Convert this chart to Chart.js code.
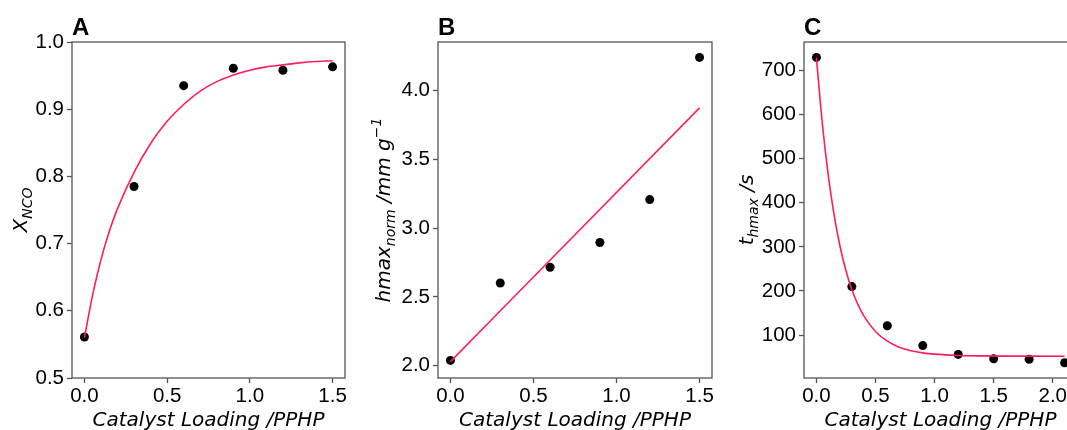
<!DOCTYPE html>
<html>
<head>
<meta charset="utf-8">
<script src="https://cdn.jsdelivr.net/npm/chart.js@4/dist/chart.umd.min.js"></script>
<style>
  html, body { margin: 0; padding: 0; background: #fff; overflow: hidden; width: 1067px; height: 430px; }
  canvas { position: absolute; top: 0; }
</style>
</head>
<body>
<canvas id="chartA" width="360" height="430" style="left:0px"></canvas>
<canvas id="chartB" width="360" height="430" style="left:360px"></canvas>
<canvas id="chartC" width="380" height="430" style="left:720px"></canvas>
<script>
// Panel A: conversion vs catalyst loading
const loadA = [0, 0.3, 0.6, 0.9, 1.2, 1.5];
const xncoA = [0.561, 0.785, 0.935, 0.961, 0.958, 0.963];
const fitXA = [0, 0.05, 0.1, 0.15, 0.2, 0.3, 0.4, 0.5, 0.6, 0.7, 0.8, 0.9, 1.0, 1.1, 1.2, 1.3, 1.4, 1.5];
const fitYA = [0.560, 0.624, 0.676, 0.718, 0.752, 0.806, 0.849, 0.882, 0.907, 0.927, 0.941, 0.951, 0.958, 0.963, 0.966, 0.969, 0.971, 0.972];
const yTicksA = [0.5, 0.6, 0.7, 0.8, 0.9, 1.0];

// Panel B: normalised max height
const loadB = [0, 0.3, 0.6, 0.9, 1.2, 1.5];
const hmaxB = [2.039, 2.602, 2.716, 2.896, 3.208, 4.242];
const fitXB = [0, 1.5];
const fitYB = [2.03, 3.875];
const yTicksB = [2.0, 2.5, 3.0, 3.5, 4.0];

// Panel C: time to max height
const loadC = [0, 0.3, 0.6, 0.9, 1.2, 1.5, 1.8, 2.1];
const thmaxC = [730, 210, 121, 76, 56, 46, 45, 37];
const fitXC = [0, 0.05, 0.1, 0.15, 0.2, 0.25, 0.3, 0.35, 0.4, 0.5, 0.6, 0.7, 0.8, 0.9, 1.0, 1.2, 1.4, 1.6, 1.8, 2.1];
const fitYC = [730, 580, 463, 372, 301, 246, 203, 170, 144, 108, 86, 72.5, 64.4, 59.5, 56.6, 53.7, 52.6, 52.2, 52.1, 52.0];
const yTicksC = [100, 200, 300, 400, 500, 600, 700];

const xTicksAB = [0, 0.5, 1.0, 1.5];
const xTicksC = [0, 0.5, 1.0, 1.5, 2.0];
const X_TITLE = 'Catalyst Loading /PPHP';

const FIT_COLOR = '#ff1f58';
const FRAME = '#555555';
const TICK_FONT = { family: '"Liberation Sans", Arial, sans-serif', size: 20.5 };
const TITLE_FAMILY = '"DejaVu Sans", sans-serif';

const pts = (xs, ys) => xs.map((x, i) => ({ x, y: ys[i] }));

// y title pieces: text, size, shift (sub > 0, sup < 0)
function drawRich(ctx, parts, x, y) {
  ctx.save();
  ctx.translate(x, y);
  ctx.rotate(-Math.PI / 2);
  ctx.textAlign = 'left';
  ctx.textBaseline = 'alphabetic';
  let total = 0;
  parts.forEach(p => {
    ctx.font = 'italic ' + p.size + 'px ' + TITLE_FAMILY;
    p.w = ctx.measureText(p.t).width;
    total += p.w;
  });
  let cx = -total / 2;
  parts.forEach(p => {
    ctx.font = 'italic ' + p.size + 'px ' + TITLE_FAMILY;
    ctx.fillText(p.t, cx, p.dy || 0);
    cx += p.w;
  });
  ctx.restore();
}

function decor(letter, parts, titleX) {
  return {
    id: 'decor' + letter,
    afterDraw(chart) {
      const { ctx, chartArea: a } = chart;
      ctx.save();
      ctx.strokeStyle = FRAME;
      ctx.lineWidth = 1.3;
      ctx.strokeRect(a.left, a.top, a.right - a.left, a.bottom - a.top);
      ctx.fillStyle = '#000';
      ctx.font = 'bold 24px "Liberation Sans", Arial, sans-serif';
      ctx.textAlign = 'left';
      ctx.textBaseline = 'alphabetic';
      ctx.fillText(letter, a.left, 35);
      ctx.font = 'italic 20px ' + TITLE_FAMILY;
      ctx.textAlign = 'center';
      ctx.fillText(X_TITLE, (a.left + a.right) / 2, 426);
      drawRich(ctx, parts, titleX, (a.top + a.bottom) / 2);
      ctx.restore();
    }
  };
}

function makePanel(id, cfg) {
  const axis = (min, max, ticks, fmt, fit, pad) => ({
    type: 'linear',
    min, max,
    afterBuildTicks: s => { s.ticks = ticks.map(v => ({ value: v })); },
    afterFit: fit,
    border: { display: false },
    grid: { display: true, drawOnChartArea: false, drawTicks: true, tickLength: 5, tickColor: FRAME, tickWidth: 1.3 },
    ticks: { autoSkip: false, maxRotation: 0, padding: pad, color: '#000', font: TICK_FONT, callback: fmt }
  });
  new Chart(document.getElementById(id), {
    type: 'scatter',
    data: {
      datasets: [
        {
          type: 'line',
          data: pts(cfg.fitX, cfg.fitY),
          borderColor: FIT_COLOR,
          borderWidth: 1.6,
          pointRadius: 0,
          fill: false,
          cubicInterpolationMode: 'monotone'
        },
        {
          data: pts(cfg.x, cfg.y),
          backgroundColor: '#000',
          borderColor: '#000',
          pointRadius: 4.5,
          pointBorderWidth: 0
        }
      ]
    },
    options: {
      responsive: false,
      devicePixelRatio: 1,
      animation: false,
      layout: { padding: { left: 0, right: cfg.padRight, top: 42, bottom: 0 } },
      plugins: { legend: { display: false }, tooltip: { enabled: false } },
      scales: {
        x: axis(cfg.xMin, cfg.xMax, cfg.xTicks, v => v.toFixed(1), s => { s.height = 52; }, 1),
        y: axis(cfg.yMin, cfg.yMax, cfg.yTicks, cfg.yFmt, s => { s.width = cfg.yWidth; }, 3)
      }
    },
    plugins: [decor(cfg.letter, cfg.yTitle, cfg.titleX)]
  });
}

makePanel('chartA', {
  letter: 'A', x: loadA, y: xncoA, fitX: fitXA, fitY: fitYA,
  xMin: -0.075, xMax: 1.575, xTicks: xTicksAB,
  yMin: 0.5, yMax: 1.0, yTicks: yTicksA, yFmt: v => v.toFixed(1),
  yWidth: 72, padRight: 15, titleX: 27,
  yTitle: [{ t: 'X', size: 20 }, { t: 'NCO', size: 14, dy: 5 }]
});

makePanel('chartB', {
  letter: 'B', x: loadB, y: hmaxB, fitX: fitXB, fitY: fitYB,
  xMin: -0.075, xMax: 1.575, xTicks: xTicksAB,
  yMin: 1.911, yMax: 4.354, yTicks: yTicksB, yFmt: v => v.toFixed(1),
  yWidth: 78, padRight: 8, titleX: 30,
  yTitle: [{ t: 'hmax', size: 20 }, { t: 'norm', size: 14, dy: 5 }, { t: ' /mm g', size: 20 }, { t: '\u22121', size: 14, dy: -9 }]
});

makePanel('chartC', {
  letter: 'C', x: loadC, y: thmaxC, fitX: fitXC, fitY: fitYC,
  xMin: -0.105, xMax: 2.205, xTicks: xTicksC,
  yMin: 2.5, yMax: 765, yTicks: yTicksC, yFmt: v => String(v),
  yWidth: 84, padRight: 23, titleX: 33,
  yTitle: [{ t: 't', size: 20 }, { t: 'hmax', size: 14, dy: 5 }, { t: ' /s', size: 20 }]
});
</script>
</body>
</html>
